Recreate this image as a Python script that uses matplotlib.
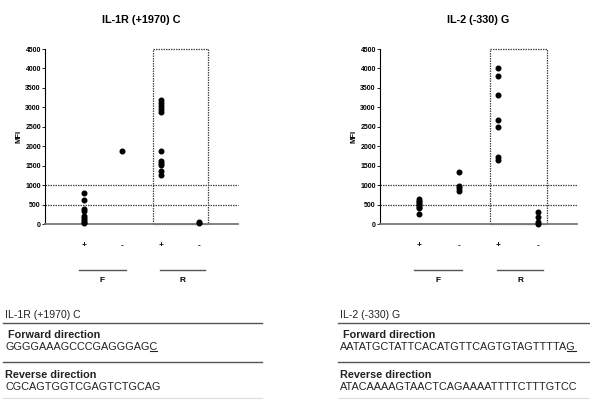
import matplotlib
matplotlib.use("Agg")
import matplotlib.pyplot as plt
from matplotlib.lines import Line2D

plt.rcParams['font.family'] = ['Liberation Sans', 'DejaVu Sans']

# group positions and labels
positions = [1, 2, 3, 4]
tick_labels = ['+', '-', '+', '-']

# IL-1R (+1970) C  -- MFI values per group
il1r_f_pos = [800, 630, 380, 330, 200, 150, 100, 60, 20]
il1r_f_neg = [1870]
il1r_r_pos = [3200, 3120, 3040, 2950, 2870, 1880, 1620, 1570, 1510, 1370, 1260]
il1r_r_neg = [50, 20]

# IL-2 (-330) G
il2_f_pos = [650, 600, 560, 520, 480, 450, 420, 250]
il2_f_neg = [1350, 980, 920, 850]
il2_r_pos = [4010, 3810, 3320, 2680, 2500, 1720, 1650]
il2_r_neg = [320, 180, 50, 10]

W, H = 590, 400


def fx(px):
    return px / W


def fy(py):
    return 1 - py / H


def draw_panel(ax, title, groups):
    for x, vals in zip(positions, groups):
        ax.plot([x] * len(vals), vals, 'o', color='black', ms=3.3,
                clip_on=False, zorder=3)
    ax.set_xlim(0, 5)
    ax.set_ylim(0, 4500)
    ax.set_yticks(range(0, 4501, 500))
    ax.tick_params(axis='y', labelsize=5, length=2, width=0.6, pad=1)
    for lab in ax.get_yticklabels():
        lab.set_fontweight('bold')
    ax.set_xticks(positions)
    ax.set_xticklabels(tick_labels, fontsize=6, fontweight='bold')
    ax.tick_params(axis='x', length=0, pad=13)
    for s in ['top', 'right']:
        ax.spines[s].set_visible(False)
    ax.spines['left'].set_linewidth(0.8)
    ax.spines['bottom'].set_color('#777777')
    ax.spines['bottom'].set_linewidth(1.3)
    # threshold lines
    for yv in [500, 1000]:
        ax.axhline(yv, color='#444444', ls=(0, (1.2, 0.8)), lw=0.9, zorder=1,
                   clip_on=False)
    # dotted box around R group
    ax.plot([2.8, 2.8, 4.23, 4.23, 2.8], [0, 4500, 4500, 0, 0],
            color='#444444', ls=(0, (1.2, 0.8)), lw=0.9, clip_on=False)
    ax.set_ylabel('MFI', fontsize=5.5, fontweight='bold', labelpad=2)
    ax.set_title(title, fontsize=7.8, fontweight='bold', pad=19)
    # F / R group bars
    tr = ax.get_xaxis_transform()
    for (x0, x1), lab in zip([(0.87, 2.09), (2.97, 4.14)], ['F', 'R']):
        ax.plot([x0, x1], [-0.263, -0.263], color='#555555', lw=1.0,
                transform=tr, clip_on=False)
        ax.text((x0 + x1) / 2, -0.325, lab, transform=tr, ha='center',
                va='center', fontsize=6, fontweight='bold')


fig = plt.figure(figsize=(5.9, 4.0), dpi=100)
ax1 = fig.add_axes([fx(45), fy(224), fx(238) - fx(45), fy(49) - fy(224)])
ax2 = fig.add_axes([fx(380), fy(224), fx(577) - fx(380), fy(49) - fy(224)])

draw_panel(ax1, 'IL-1R (+1970) C', [il1r_f_pos, il1r_f_neg, il1r_r_pos, il1r_r_neg])
draw_panel(ax2, 'IL-2 (-330) G', [il2_f_pos, il2_f_neg, il2_r_pos, il2_r_neg])

# primer tables
tables = [
    (3, 262, 'IL-1R (+1970) C', 'GGGGAAAGCCCGAGGGAGC', 'CGCAGTGGTCGAGTCTGCAG'),
    (338, 590, 'IL-2 (-330) G', 'AATATGCTATTCACATGTTCAGTGTAGTTTTAG',
     'ATACAAAAGTAACTCAGAAAATTTTCTTTGTCC'),
]

seq_fs = 7.8
underline_jobs = []
for x0, x1, name, fwd, rev in tables:
    tx = x0 + 2
    fig.text(fx(tx), fy(315), name, fontsize=7.6, va='center', color='#222222')
    fig.add_artist(Line2D([fx(x0), fx(x1)], [fy(323), fy(323)], color='#555555', lw=1.0))
    fig.text(fx(tx + 3), fy(334.5), 'Forward direction', fontsize=7.8,
             fontweight='bold', va='center', color='#222222')
    t_full = fig.text(fx(tx), fy(346.5), fwd, fontsize=seq_fs, va='center', color='#222222')
    t_pre = fig.text(fx(tx), fy(346.5), fwd[:-1], fontsize=seq_fs, va='center', alpha=0)
    underline_jobs.append((t_full, t_pre))
    fig.add_artist(Line2D([fx(x0), fx(x1)], [fy(362), fy(362)], color='#555555', lw=1.0))
    fig.text(fx(tx), fy(374.5), 'Reverse direction', fontsize=7.8,
             fontweight='bold', va='center', color='#222222')
    fig.text(fx(tx), fy(387), rev, fontsize=seq_fs, va='center', color='#222222')
    fig.add_artist(Line2D([fx(x0), fx(x1)], [fy(398), fy(398)], color='#dddddd', lw=0.8))

# underline the last base of each forward sequence
fig.canvas.draw()
r = fig.canvas.get_renderer()
for t_full, t_pre in underline_jobs:
    e_full = t_full.get_window_extent(r)
    e_pre = t_pre.get_window_extent(r)
    yl = e_full.y0 + 1
    fig.add_artist(Line2D([e_pre.x1 / W, e_full.x1 / W], [yl / H, yl / H],
                          color='#222222', lw=0.8))

fig.savefig('out.png', dpi=100)
